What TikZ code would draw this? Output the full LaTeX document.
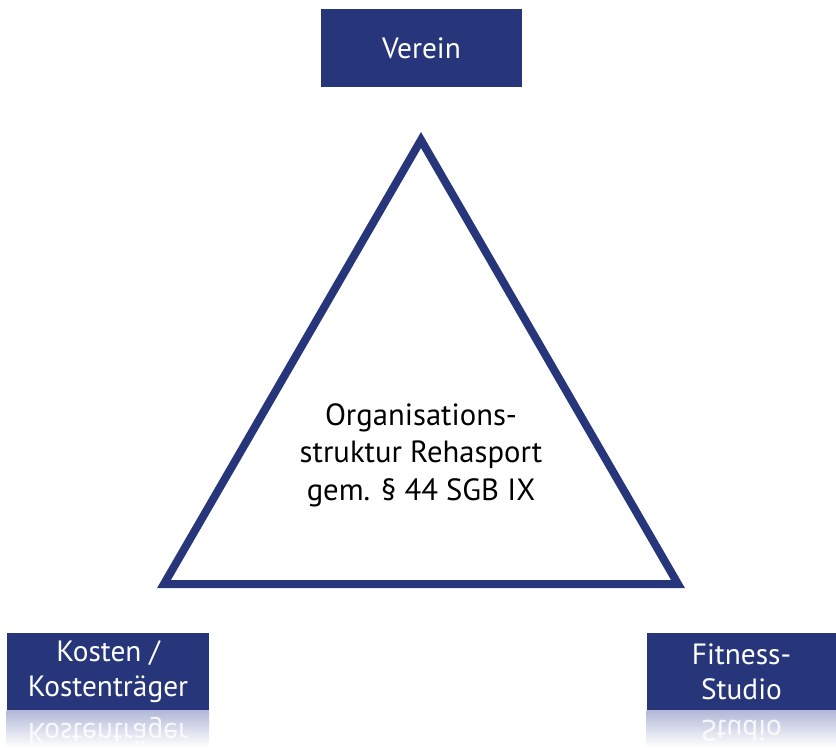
\documentclass[tikz,border=0pt]{standalone}
\usepackage{fontspec}
\setmainfont{PT Sans}
\usepackage{tikz}
\usetikzlibrary{positioning,shadings}
\definecolor{rehablue}{RGB}{39,54,122}
\definecolor{mirrorcol}{RGB}{178,184,216}

\begin{document}
\begin{tikzpicture}[x=0.75pt, y=-0.75pt,
  box/.style={rectangle, fill=rehablue, text=white, inner sep=0pt,
              font=\fontsize{22}{26}\selectfont, minimum height=57.75pt, align=center},
  mirror/.style={box, fill=none, text=white, text opacity=0.85, yscale=-1, transform shape},
  tri/.style={draw=rehablue, line width=6pt, miter limit=10, line join=miter}
]
\useasboundingbox (0,0) rectangle (836,747);

\node[box, minimum width=150.75pt, minimum height=58.5pt] (verein)  at (421.5, 48)  {Verein};
\node[box, minimum width=151.5pt]  (kosten)  at (108, 671.5)  {Kosten /\\Kostenträger};
\node[box, minimum width=141.75pt] (fitness) at (741.5, 671.5) {Fitness-\\Studio};

% triangle with the central label
\coordinate (top)   at (421, 140);
\coordinate (left)  at (164, 584);
\coordinate (right) at (678, 584);
\draw[tri] (top) -- (left) -- (right) -- cycle;
\node[font=\fontsize{23}{28}\selectfont, align=center] (org) at (421, 455)
  {Organisations-\\struktur Rehasport\\gem. § 44 SGB IX};

% mirrored copies under the lower boxes
\begin{scope}
  \clip (kosten.south west) rectangle (209, 747);
  \shade[top color=mirrorcol, bottom color=white] (kosten.south west) rectangle (209, 747);
  \node[mirror, minimum width=151.5pt] (kostenm) at (108, 748.5) {Kosten /\\Kostenträger};
\end{scope}
\begin{scope}
  \clip (fitness.south west) rectangle (836, 747);
  \shade[top color=mirrorcol, bottom color=white] (fitness.south west) rectangle (836, 747);
  \node[mirror, minimum width=141.75pt] (fitnessm) at (741.5, 748.5) {Fitness-\\Studio};
\end{scope}
\end{tikzpicture}
\end{document}
